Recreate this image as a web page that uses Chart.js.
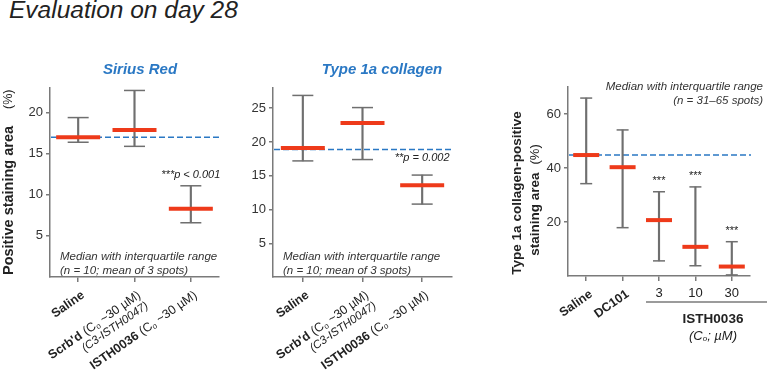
<!DOCTYPE html>
<html lang="en">
<head>
<meta charset="UTF-8">
<title>Evaluation on day 28</title>
<script src="https://cdn.jsdelivr.net/npm/chart.js"></script>
<style>
  body { margin: 0; background: #fff; width: 767px; height: 382px; position: relative; overflow: hidden; }
  canvas { position: absolute; top: 0; }
  #title { position: absolute; left: 9px; top: -2px; font: italic 24.5px/24px "Liberation Sans", Arial, sans-serif; color: #222; white-space: nowrap; }
</style>
</head>
<body>
<div id="title">Evaluation on day 28</div>
<canvas id="c1" width="245" height="382" style="left:0"></canvas>
<canvas id="c2" width="250" height="382" style="left:245px"></canvas>
<canvas id="c3" width="272" height="382" style="left:495px"></canvas>
<script>
// Sirius Red panel
const siriusCats = ['Saline', "Scrb'd (Cₒ ~30 µM)", 'ISTH0036 (Cₒ ~30 µM)'];
const siriusSub = ['', '(C3-ISTH0047)', ''];
const siriusMedian = [17.0, 17.9, 8.3];
const siriusQ1 = [16.4, 15.9, 6.6];
const siriusQ3 = [19.4, 22.7, 11.1];
const siriusRef = 17.0;
const siriusTicks = [5, 10, 15, 20];

// Type 1a collagen panel
const collCats = ['Saline', "Scrb'd (Cₒ ~30 µM)", 'ISTH0036 (Cₒ ~30 µM)'];
const collSub = ['', '(C3-ISTH0047)', ''];
const collMedian = [19.1, 22.8, 13.6];
const collQ1 = [17.2, 17.4, 10.8];
const collQ3 = [26.9, 25.1, 15.1];
const collRef = 18.9;
const collTicks = [5, 10, 15, 20, 25];

// spots panel
const spotCats = ['Saline', 'DC101', '3', '10', '30'];
const spotMedian = [44.8, 40.3, 20.7, 10.8, 3.5];
const spotQ1 = [34.2, 17.9, 5.6, 3.8, 0.4];
const spotQ3 = [65.9, 54.1, 31.2, 33.0, 12.7];
const spotStars = ['', '', '***', '***', '***'];
const spotRef = 44.8;
const spotTicks = [20, 40, 60];

const FONT = '"Liberation Sans", Arial, sans-serif';
const RED = '#ee3a1a';
const GRAY = '#6f6f6f';
const AXIS = '#7a7a7a';
const BLUE = '#2a78c4';
const TEXT = '#222';
const ROT = -35 * Math.PI / 180;

// draw a list of {t, f, dy} pieces in a row, anchored at origin
function drawParts(ctx, parts, align) {
  let w = 0;
  parts.forEach(p => { ctx.font = p.f; w += ctx.measureText(p.t).width + (p.gap || 0); });
  let x = align === 'right' ? -w : align === 'center' ? -w / 2 : 0;
  ctx.textAlign = 'left';
  ctx.textBaseline = 'middle';
  parts.forEach(p => {
    ctx.font = p.f;
    x += p.gap || 0;
    ctx.fillText(p.t, x, p.dy || 0);
    x += ctx.measureText(p.t).width;
  });
}

// first word bold, rest normal, 'ₒ' as a small lowered o
function labelParts(label, size, italic) {
  const st = italic ? 'italic ' : '';
  const i = label.indexOf(' ');
  const head = i < 0 ? label : label.slice(0, i);
  const rest = i < 0 ? '' : label.slice(i);
  const parts = [{ t: head, f: `${st}bold ${size}px ${FONT}` }];
  rest.split('ₒ').forEach((s, k) => {
    if (k > 0) parts.push({ t: 'o', f: `${st}${Math.round(size * 0.62)}px ${FONT}`, dy: 3 });
    if (s) parts.push({ t: s, f: `${st}${size}px ${FONT}` });
  });
  return parts;
}

function refLine(value) {
  return {
    id: 'refLine',
    beforeDatasetsDraw(chart) {
      const { ctx, chartArea } = chart;
      const y = chart.scales.y.getPixelForValue(value);
      ctx.save();
      ctx.strokeStyle = BLUE;
      ctx.lineWidth = 1.6;
      ctx.setLineDash([6, 3]);
      ctx.beginPath();
      ctx.moveTo(chartArea.left + 1, y);
      ctx.lineTo(chartArea.right + 1, y);
      ctx.stroke();
      ctx.restore();
    }
  };
}

function makePanel(id, cfg) {
  const ctx = document.getElementById(id).getContext('2d');
  const axisGrid = { display: true, drawOnChartArea: false, drawTicks: true, tickLength: 5, color: AXIS, lineWidth: 1.5, offset: false };
  return new Chart(ctx, {
    type: 'bar',
    data: {
      labels: cfg.cats,
      datasets: [
        { type: 'line', data: cfg.median, showLine: false, pointStyle: 'line', pointRadius: cfg.medR,
          pointBorderColor: RED, borderColor: RED, pointBorderWidth: 4, clip: false, order: 0 },
        { type: 'line', data: cfg.q1, showLine: false, pointStyle: 'line', pointRadius: cfg.capR,
          pointBorderColor: GRAY, borderColor: GRAY, pointBorderWidth: 1.5, clip: false, order: 1 },
        { type: 'line', data: cfg.q3, showLine: false, pointStyle: 'line', pointRadius: cfg.capR,
          pointBorderColor: GRAY, borderColor: GRAY, pointBorderWidth: 1.5, clip: false, order: 1 },
        { type: 'bar', data: cfg.q1.map((v, i) => [v, cfg.q3[i]]), backgroundColor: GRAY,
          barThickness: 1.5, order: 2 }
      ]
    },
    options: {
      responsive: false,
      animation: false,
      events: [],
      layout: { padding: cfg.padding },
      plugins: { legend: { display: false }, tooltip: { enabled: false } },
      scales: {
        x: {
          grid: axisGrid,
          border: { color: AXIS, width: 1.5 },
          ticks: { display: false },
          afterFit: s => { s.height = cfg.xHeight; }
        },
        y: {
          min: 0, max: cfg.yMax,
          afterBuildTicks: s => { s.ticks = cfg.ticks.map(v => ({ value: v })); },
          grid: Object.assign({}, axisGrid, { tickLength: 4 }),
          border: { color: AXIS, width: 1.5 },
          ticks: { font: { family: FONT, size: 13 }, color: '#333', padding: 3 },
          afterFit: s => { s.width = cfg.yWidth; }
        }
      }
    },
    plugins: [refLine(cfg.ref), { id: 'texts', afterDraw: cfg.draw }]
  });
}

// rotated category labels for panels 1 and 2
function drawRotLabels(chart, cats, subs) {
  const { ctx } = chart;
  const xs = chart.scales.x, bottom = chart.chartArea.bottom;
  ctx.save();
  ctx.fillStyle = TEXT;
  cats.forEach((c, i) => {
    ctx.save();
    ctx.translate(xs.getPixelForValue(i) + 5, bottom + 17);
    ctx.rotate(ROT);
    drawParts(ctx, labelParts(c, 12.5), 'right');
    if (subs[i]) drawParts(ctx, [{ t: subs[i], f: `italic 11.5px ${FONT}`, dy: 13 }], 'right');
    ctx.restore();
  });
  ctx.restore();
}

function drawNote(ctx, x, y, lines, align) {
  ctx.save();
  ctx.fillStyle = '#333';
  ctx.font = `italic 11.5px ${FONT}`;
  ctx.textAlign = align;
  ctx.textBaseline = 'middle';
  lines.forEach((l, i) => ctx.fillText(l, x, y + i * 13.5));
  ctx.restore();
}

function drawTitle(ctx, text, x) {
  ctx.save();
  ctx.fillStyle = BLUE;
  ctx.font = `italic bold 15px ${FONT}`;
  ctx.textAlign = 'center';
  ctx.textBaseline = 'alphabetic';
  ctx.fillText(text, x, 74);
  ctx.restore();
}

makePanel('c1', {
  cats: siriusCats, median: siriusMedian, q1: siriusQ1, q3: siriusQ3, ref: siriusRef, ticks: siriusTicks,
  yMax: 23, medR: 22, capR: 10.5, padding: { left: 0, right: 16, top: 88, bottom: 0 }, xHeight: 105, yWidth: 50,
  draw(chart) {
    const { ctx } = chart;
    drawTitle(ctx, 'Sirius Red', 140);
    // y title
    ctx.save();
    ctx.fillStyle = TEXT;
    ctx.translate(9, 275);
    ctx.rotate(-Math.PI / 2);
    drawParts(ctx, [{ t: 'Positive staining area', f: `bold 14.5px ${FONT}` },
                    { t: '(%)', f: `12.5px ${FONT}`, gap: 17 }], 'left');
    ctx.restore();
    // p value
    ctx.save();
    ctx.fillStyle = TEXT;
    ctx.font = `italic 11px ${FONT}`;
    ctx.textAlign = 'center';
    ctx.textBaseline = 'middle';
    ctx.fillText('***p < 0.001', chart.scales.x.getPixelForValue(2), chart.scales.y.getPixelForValue(siriusQ3[2]) - 11);
    ctx.restore();
    drawNote(ctx, 60, 257, ['Median with interquartile range', '(n = 10; mean of 3 spots)'], 'left');
    drawRotLabels(chart, siriusCats, siriusSub);
  }
});

makePanel('c2', {
  cats: collCats, median: collMedian, q1: collQ1, q3: collQ3, ref: collRef, ticks: collTicks,
  yMax: 28, medR: 22, capR: 10.5, padding: { left: 0, right: 43, top: 88, bottom: 0 }, xHeight: 105, yWidth: 28,
  draw(chart) {
    const { ctx } = chart;
    drawTitle(ctx, 'Type 1a collagen', 137);
    ctx.save();
    ctx.fillStyle = TEXT;
    ctx.font = `italic 11px ${FONT}`;
    ctx.textAlign = 'center';
    ctx.textBaseline = 'middle';
    ctx.fillText('**p = 0.002', chart.scales.x.getPixelForValue(2), chart.scales.y.getPixelForValue(collQ3[2]) - 17);
    ctx.restore();
    drawNote(ctx, 38, 257, ['Median with interquartile range', '(n = 10; mean of 3 spots)'], 'left');
    drawRotLabels(chart, collCats, collSub);
  }
});

makePanel('c3', {
  cats: spotCats, median: spotMedian, q1: spotQ1, q3: spotQ3, ref: spotRef, ticks: spotTicks,
  yMax: 70, medR: 13, capR: 6, padding: { left: 0, right: 1, top: 87, bottom: 0 }, xHeight: 106, yWidth: 73,
  draw(chart) {
    const { ctx } = chart;
    const xs = chart.scales.x, ys = chart.scales.y, bottom = chart.chartArea.bottom;
    // y title
    ctx.save();
    ctx.fillStyle = TEXT;
    ctx.translate(22, 193);
    ctx.rotate(-Math.PI / 2);
    drawParts(ctx, [{ t: 'Type 1a collagen-positive', f: `bold 13.5px ${FONT}` }], 'center');
    ctx.restore();
    ctx.save();
    ctx.fillStyle = TEXT;
    ctx.translate(40, 200);
    ctx.rotate(-Math.PI / 2);
    drawParts(ctx, [{ t: 'staining area', f: `bold 13.5px ${FONT}` },
                    { t: '(%)', f: `13px ${FONT}`, gap: 8 }], 'center');
    ctx.restore();
    // stars
    ctx.save();
    ctx.fillStyle = TEXT;
    ctx.font = `11px ${FONT}`;
    ctx.textAlign = 'center';
    ctx.textBaseline = 'middle';
    spotStars.forEach((s, i) => {
      if (s) ctx.fillText(s, xs.getPixelForValue(i), ys.getPixelForValue(spotQ3[i]) - 11);
    });
    ctx.restore();
    drawNote(ctx, 268, 87, ['Median with interquartile range', '(n = 31–65 spots)'], 'right');
    // category labels
    ctx.save();
    ctx.fillStyle = TEXT;
    let firstDose = -1;
    spotCats.forEach((c, i) => {
      const x = xs.getPixelForValue(i);
      if (isNaN(Number(c))) {
        ctx.save();
        ctx.translate(x + 5, bottom + 17);
        ctx.rotate(ROT);
        drawParts(ctx, labelParts(c, 12.5), 'right');
        ctx.restore();
      } else {
        if (firstDose < 0) firstDose = i;
        ctx.font = `13px ${FONT}`;
        ctx.textAlign = 'center';
        ctx.textBaseline = 'middle';
        ctx.fillText(c, x, bottom + 17);
      }
    });
    // dose group bracket
    const gx0 = xs.getPixelForValue(firstDose) - 13;
    ctx.strokeStyle = AXIS;
    ctx.lineWidth = 1.5;
    ctx.beginPath();
    ctx.moveTo(gx0, bottom + 26);
    ctx.lineTo(chart.width, bottom + 26);
    ctx.stroke();
    const gc = 713 - 495;
    ctx.translate(gc, bottom + 43);
    drawParts(ctx, [{ t: 'ISTH0036', f: `bold 13.5px ${FONT}` }], 'center');
    drawParts(ctx, [{ t: '(C', f: `italic 13px ${FONT}`, dy: 17 },
                    { t: 'o', f: `italic 8px ${FONT}`, dy: 20 },
                    { t: '; µM)', f: `italic 13px ${FONT}`, dy: 17 }], 'center');
    ctx.restore();
  }
});
</script>
</body>
</html>
